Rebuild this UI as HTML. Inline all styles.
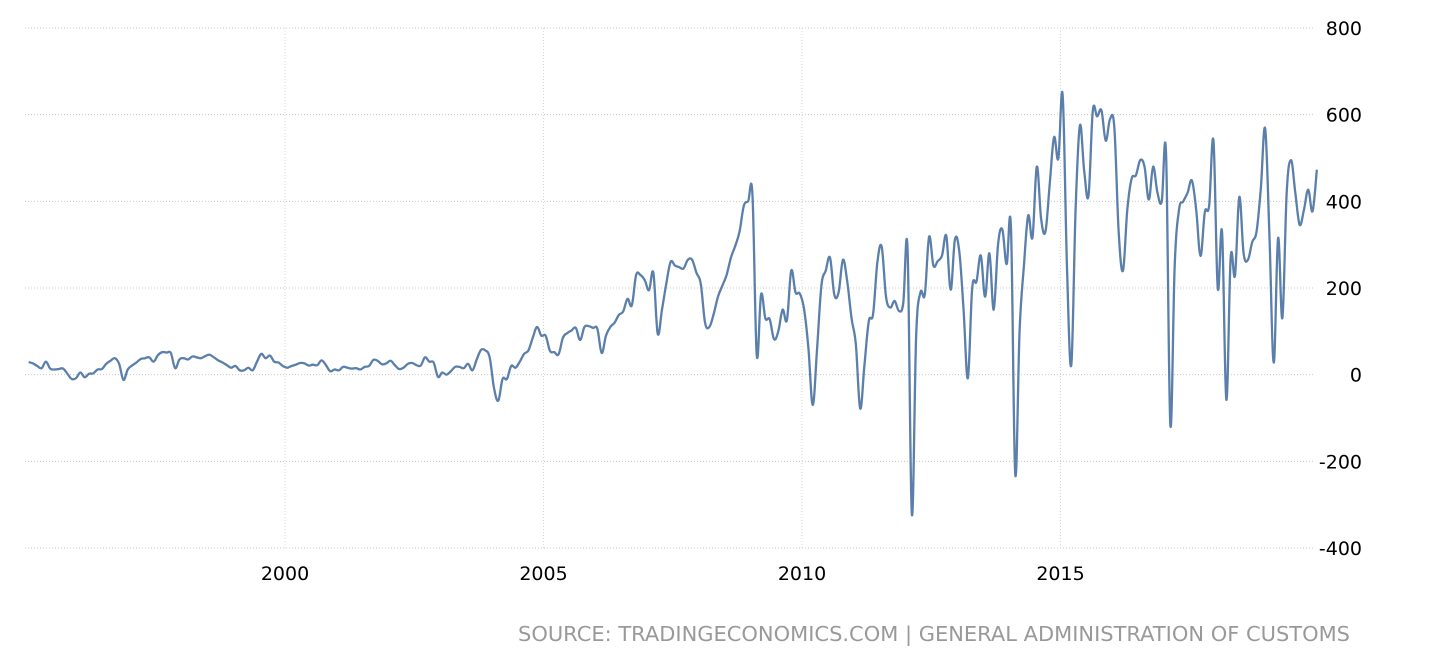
<!DOCTYPE html>
<html><head><meta charset="utf-8"><style>
html,body{margin:0;padding:0;background:#fff;}
svg{display:block;font-family:"DejaVu Sans","Liberation Sans",sans-serif;}
</style></head><body>
<svg id="chart" width="1432" height="664" viewBox="0 0 1432 664">
<g id="grid"></g>
<g id="yaxis"></g>
<g id="xaxis"></g>
<g id="series"></g>
<text x="1350" y="641" text-anchor="end" font-size="20" fill="#999" textLength="832" lengthAdjust="spacingAndGlyphs">SOURCE: TRADINGECONOMICS.COM | GENERAL ADMINISTRATION OF CUSTOMS</text>
</svg>
<script>
const startYear = 1995;
const yTicks = [800, 600, 400, 200, 0, -200, -400];
const xTickYears = [2000, 2005, 2010, 2015];
const values = [
29,26,20,15,30,14,12,13,14,2,-10,-8,
5,-6,2,3,12,13,25,32,38,25,-12,12,
21,28,36,38,40,30,45,52,51,50,15,35,
38,35,42,40,38,43,46,40,33,28,22,16,
20,10,10,16,10,30,48,38,44,30,28,20,
16,20,23,27,26,21,23,22,33,22,8,12,
10,18,16,14,15,12,18,20,34,32,24,26,
32,22,13,16,25,27,22,21,40,30,28,-5,
5,0,8,18,18,15,25,10,35,57,56,40,
-30,-60,-10,-10,20,16,30,48,56,85,110,90,
90,55,52,47,85,96,102,108,80,110,112,108,
106,50,90,110,120,138,146,175,160,230,230,218,
195,235,95,150,210,260,252,248,245,265,265,235,
210,120,110,140,180,205,230,270,297,330,390,400,
415,45,185,130,128,82,100,150,126,240,190,187,
150,60,-70,60,205,240,270,185,190,265,215,130,
70,-78,23,123,140,260,295,180,155,170,147,165,
290,-322,90,190,185,318,252,262,275,320,196,312,
285,150,-8,199,215,275,180,280,150,300,335,255,
340,-230,100,250,367,317,480,360,330,440,548,499,
645,250,22,380,575,470,413,609,596,610,540,590,
570,330,240,380,452,460,495,480,404,480,420,400,
510,-116,250,380,400,420,448,380,274,375,390,540,
200,329,-58,270,229,410,280,265,306,330,430,568,
320,28,315,131,420,495,420,346,380,427,377,473
];
const NS = "http://www.w3.org/2000/svg";
const X0 = 25, X1 = 1315, Y800 = 28, Yneg400 = 548;
function yScale(v){ return Y800 + (800 - v) * (Yneg400 - Y800) / 1200; }
function xScale(t){ return 285 + (t - 2000) * 51.7; }
function mk(tag, attrs, parent){ const e = document.createElementNS(NS, tag); for (const k in attrs) e.setAttribute(k, attrs[k]); parent.appendChild(e); return e; }
const grid = document.getElementById('grid'), yaxis = document.getElementById('yaxis'), xaxis = document.getElementById('xaxis'), series = document.getElementById('series');
yTicks.forEach(v => {
  const y = yScale(v);
  const l = mk('line', {x1: X0, x2: X1, y1: y, y2: y, stroke: '#c8c8c8', 'stroke-width': 1, 'stroke-dasharray': '1,2'}, grid);
  
  
  const t = mk('text', {x: 1362, y: y + 7, 'text-anchor': 'end', 'font-size': 19, fill: '#000'}, yaxis);
  t.textContent = String(v);
  
  
});
xTickYears.forEach(yr => {
  const x = xScale(yr);
  const l = mk('line', {x1: x, x2: x, y1: Y800, y2: Yneg400, stroke: '#d8d8d8', 'stroke-width': 1, 'stroke-dasharray': '1,2'}, grid);
  
  
  const t = mk('text', {x: x, y: 580, 'text-anchor': 'middle', 'font-size': 19, fill: '#000'}, xaxis);
  t.textContent = String(yr);
  
  
});
const pts = values.map((v, i) => [xScale(startYear + i / 12 + 1/24), yScale(v)]);
let d = 'M' + pts[0][0].toFixed(2) + ',' + pts[0][1].toFixed(2);
for (let i = 0; i < pts.length - 1; i++) {
  const p0 = pts[Math.max(0, i - 1)], p1 = pts[i], p2 = pts[i + 1], p3 = pts[Math.min(pts.length - 1, i + 2)];
  const k = 0.18;
  const c1x = p1[0] + (p2[0] - p0[0]) * k, c1y = p1[1] + (p2[1] - p0[1]) * k;
  const c2x = p2[0] - (p3[0] - p1[0]) * k, c2y = p2[1] - (p3[1] - p1[1]) * k;
  d += ' C' + c1x.toFixed(2) + ',' + c1y.toFixed(2) + ' ' + c2x.toFixed(2) + ',' + c2y.toFixed(2) + ' ' + p2[0].toFixed(2) + ',' + p2[1].toFixed(2);
}
const path = mk('path', {d: d, fill: 'none', stroke: '#5b7fab', 'stroke-width': 2.3, 'stroke-linejoin': 'round'}, series);


</script>
</body></html>
